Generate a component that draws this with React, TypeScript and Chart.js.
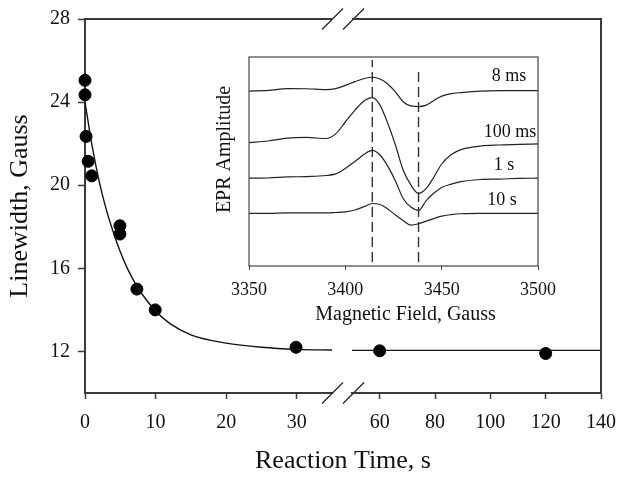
import React, { useEffect, useRef } from "react";
import { Chart, registerables } from "chart.js";

Chart.register(...registerables);

const SERIF = '"Liberation Serif", "Times New Roman", Times, serif';
const INK = "#111111";
const AXIS = "#3a3a3a";

// ---------- main chart data ----------
const timeTicksEarly = [0, 10, 20, 30];
const timeTicksLate = [60, 80, 100, 120, 140];
const linewidthTicks = [12, 16, 20, 24, 28];

const measuredTimeEarly = [0, 0, 0.15, 0.45, 0.95, 4.95, 4.95, 7.35, 9.95, 29.9];
const measuredLinewidthEarly = [25.05, 24.35, 22.35, 21.15, 20.45, 18.05, 17.65, 15.0, 14.0, 12.2];
const measuredTimeLate = [60, 120];
const measuredLinewidthLate = [12.03, 11.9];

const fitTimeEarly = [0, 1, 2, 3, 4, 5, 6, 7, 8, 10, 12, 15, 20, 25, 30, 35];
const fitLinewidthEarly = [24.0, 21.9, 20.2, 18.85, 17.75, 16.8, 16.0, 15.35, 14.8, 13.95, 13.35, 12.8, 12.4, 12.2, 12.1, 12.07];
const fitTimeLate = [50, 140];
const fitLinewidthLate = [12.05, 12.05];

// ---------- inset data (EPR spectra) ----------
const fieldTicks = [3350, 3400, 3450, 3500];
const field = [3350, 3360, 3370, 3380, 3390, 3395, 3400, 3405, 3410, 3414, 3418, 3422, 3426, 3430, 3434, 3438, 3442, 3446, 3450, 3455, 3460, 3470, 3480, 3490, 3500];
const epr8ms = [83.7, 84.0, 84.9, 84.8, 84.4, 84.9, 86.4, 88.2, 89.7, 90.3, 89.5, 87.1, 83.3, 78.6, 76.6, 76.3, 77.0, 79.2, 81.3, 82.5, 83.0, 83.7, 83.9, 83.9, 83.9];
const epr100ms = [59.0, 59.8, 61.2, 61.5, 61.0, 63.2, 68.9, 74.6, 79.2, 80.6, 77.0, 68.3, 57.9, 45.9, 38.8, 34.7, 37.1, 42.6, 48.8, 53.3, 55.7, 57.4, 57.9, 58.2, 58.4];
const epr1s = [42.0, 42.1, 42.6, 42.8, 43.3, 44.1, 46.7, 50.0, 53.6, 55.3, 53.1, 47.8, 40.7, 32.3, 28.2, 26.6, 31.3, 34.9, 37.6, 39.2, 40.4, 41.4, 41.6, 41.9, 42.0];
const epr10s = [25.2, 25.2, 25.4, 25.4, 25.4, 25.6, 25.9, 26.8, 28.5, 29.9, 29.4, 27.3, 24.4, 21.8, 19.6, 20.2, 21.5, 22.7, 23.9, 24.6, 25.0, 25.2, 25.2, 25.2, 25.2];
const spectrumNames = ["8 ms", "100 ms", "1 s", "10 s"];
const markerFields = [3414, 3438];
const markerBottom = [1.9, 1.9];
const markerTop = [98.6, 93.8];

const pts = (xs: number[], ys: number[]) => xs.map((x, i) => ({ x, y: ys[i] }));

const W = 624;
const H = 480;
const PLOT_TOP = 19;
const PLOT_BOTTOM_AXIS_H = 87;
const EARLY_LEFT = 85;
const EARLY_RIGHT = 332;
const LATE_LEFT = 352;
const LATE_RIGHT = 601;

const tickFont = { family: SERIF, size: 20 };

function xAxis(min: number, max: number, ticks: number[]) {
  return {
    type: "linear" as const,
    min,
    max,
    afterBuildTicks: (s: any) => {
      s.ticks = ticks.map((v) => ({ value: v }));
    },
    afterFit: (s: any) => {
      s.height = PLOT_BOTTOM_AXIS_H;
      s.paddingLeft = 0;
      s.paddingRight = 0;
    },
    grid: { drawOnChartArea: false, drawTicks: true, tickLength: 6, tickColor: AXIS, tickWidth: 1.5 },
    border: { display: true, color: AXIS, width: 2 },
    ticks: { font: tickFont, color: INK, padding: 12, maxRotation: 0, autoSkip: false, callback: (v: any) => String(v) },
  };
}

const earlyDecor = {
  id: "earlyDecor",
  afterDraw(chart: any) {
    const { ctx, chartArea: a } = chart;
    ctx.save();
    ctx.strokeStyle = AXIS;
    ctx.lineWidth = 2;
    ctx.beginPath();
    ctx.moveTo(a.left - 1, a.top);
    ctx.lineTo(a.right, a.top);
    ctx.stroke();
    ctx.strokeStyle = "#222";
    ctx.lineWidth = 1.3;
    for (const y of [a.top, a.bottom]) {
      for (const x0 of [a.right - 10, a.right + 11]) {
        ctx.beginPath();
        ctx.moveTo(x0, y + 10.5);
        ctx.lineTo(x0 + 21, y - 10.5);
        ctx.stroke();
      }
    }
    ctx.fillStyle = INK;
    ctx.font = `26px ${SERIF}`;
    ctx.textAlign = "center";
    ctx.textBaseline = "alphabetic";
    ctx.fillText("Reaction Time, s", (EARLY_LEFT + LATE_RIGHT) / 2, 468);
    ctx.restore();
  },
};

const lateDecor = {
  id: "lateDecor",
  afterDraw(chart: any) {
    const { ctx, chartArea: a } = chart;
    ctx.save();
    ctx.strokeStyle = AXIS;
    ctx.lineWidth = 2;
    ctx.beginPath();
    ctx.moveTo(a.left, a.top);
    ctx.lineTo(a.right, a.top);
    ctx.lineTo(a.right, a.bottom);
    ctx.stroke();
    ctx.restore();
  },
};

const insetDecor = {
  id: "insetDecor",
  afterDraw(chart: any) {
    const { ctx, chartArea: a, scales } = chart;
    ctx.save();
    ctx.strokeStyle = "#444";
    ctx.lineWidth = 1.2;
    ctx.strokeRect(a.left, a.top, a.right - a.left, a.bottom - a.top);
    ctx.fillStyle = INK;
    ctx.font = `20px ${SERIF}`;
    ctx.textAlign = "center";
    ctx.textBaseline = "middle";
    ctx.fillText("Magnetic Field, Gauss", (a.left + a.right) / 2 + 12, a.bottom + 49);
    ctx.save();
    ctx.translate(a.left - 24, (a.top + a.bottom) / 2 - 12);
    ctx.rotate(-Math.PI / 2);
    ctx.fillText("EPR Amplitude", 0, 0);
    ctx.restore();
    ctx.font = `18px ${SERIF}`;
    const series = [epr8ms, epr100ms, epr1s, epr10s];
    const dx = [-29, -28, -34, -36];
    const dy = [14.5, 11.5, 13.3, 13.3];
    series.forEach((s, i) => {
      const y = scales.y.getPixelForValue(s[s.length - 1]) - dy[i];
      ctx.fillText(spectrumNames[i], a.right + dx[i], y);
    });
    ctx.restore();
  },
};

export default function App() {
  const earlyRef = useRef<HTMLCanvasElement>(null);
  const lateRef = useRef<HTMLCanvasElement>(null);
  const insetRef = useRef<HTMLCanvasElement>(null);

  useEffect(() => {
    const common = {
      animation: false as const,
      responsive: false,
      events: [] as any[],
      plugins: { legend: { display: false }, tooltip: { enabled: false } },
    };

    const early = new Chart(earlyRef.current!, {
      type: "line",
      data: {
        datasets: [
          {
            data: pts(fitTimeEarly, fitLinewidthEarly),
            borderColor: INK,
            borderWidth: 1.4,
            pointRadius: 0,
            cubicInterpolationMode: "monotone",
            fill: false,
          } as any,
          {
            type: "scatter",
            data: pts(measuredTimeEarly, measuredLinewidthEarly),
            backgroundColor: "#000",
            borderColor: "#000",
            pointRadius: 6,
            clip: false,
          } as any,
        ],
      },
      options: {
        ...common,
        layout: { padding: { left: 0, top: PLOT_TOP, right: W - EARLY_RIGHT, bottom: 0 } },
        scales: {
          x: xAxis(0, 35, timeTicksEarly) as any,
          y: {
            type: "linear",
            min: 10,
            max: 28,
            afterBuildTicks: (s: any) => {
              s.ticks = linewidthTicks.map((v) => ({ value: v }));
            },
            afterFit: (s: any) => {
              s.width = EARLY_LEFT;
              s.paddingTop = 0;
              s.paddingBottom = 0;
            },
            grid: { drawOnChartArea: false, drawTicks: true, tickLength: 7, tickColor: AXIS, tickWidth: 1.5 },
            border: { display: true, color: AXIS, width: 2 },
            ticks: { font: tickFont, color: INK, padding: 8 },
            title: {
              display: true,
              text: "Linewidth, Gauss",
              color: INK,
              font: { family: SERIF, size: 26 },
              padding: { top: 5, bottom: 0 },
            },
          } as any,
        },
      },
      plugins: [earlyDecor],
    });

    const late = new Chart(lateRef.current!, {
      type: "line",
      data: {
        datasets: [
          {
            data: pts(fitTimeLate, fitLinewidthLate),
            borderColor: INK,
            borderWidth: 1.4,
            pointRadius: 0,
            fill: false,
          } as any,
          {
            type: "scatter",
            data: pts(measuredTimeLate, measuredLinewidthLate),
            backgroundColor: "#000",
            borderColor: "#000",
            pointRadius: 6,
            clip: false,
          } as any,
        ],
      },
      options: {
        ...common,
        layout: { padding: { left: LATE_LEFT, top: PLOT_TOP, right: W - LATE_RIGHT, bottom: 0 } },
        scales: {
          x: xAxis(50, 140, timeTicksLate) as any,
          y: { type: "linear", min: 10, max: 28, display: false },
        },
      },
      plugins: [lateDecor],
    });

    const spectra = [epr8ms, epr100ms, epr1s, epr10s];
    const inset = new Chart(insetRef.current!, {
      type: "line",
      data: {
        datasets: [
          ...spectra.map(
            (s) =>
              ({
                data: pts(field, s),
                borderColor: "#222",
                borderWidth: 1.2,
                pointRadius: 0,
                cubicInterpolationMode: "monotone",
                fill: false,
              }) as any
          ),
          ...markerFields.map(
            (f, i) =>
              ({
                data: [
                  { x: f, y: markerBottom[i] },
                  { x: f, y: markerTop[i] },
                ],
                borderColor: "#333",
                borderWidth: 1.4,
                borderDash: [10, 5],
                pointRadius: 0,
                fill: false,
              }) as any
          ),
        ],
      },
      options: {
        ...common,
        layout: { padding: { left: 249, top: 57, right: 86, bottom: H - 266 - 60 } },
        scales: {
          x: {
            type: "linear",
            min: 3350,
            max: 3500,
            afterBuildTicks: (s: any) => {
              s.ticks = fieldTicks.map((v) => ({ value: v }));
            },
            afterFit: (s: any) => {
              s.height = 60;
              s.paddingLeft = 0;
              s.paddingRight = 0;
            },
            grid: { drawOnChartArea: false, drawTicks: true, tickLength: 4, tickColor: "#444", tickWidth: 1 },
            border: { display: false },
            ticks: {
              font: { family: SERIF, size: 18 },
              color: INK,
              padding: 9,
              maxRotation: 0,
              autoSkip: false,
              callback: (v: any) => String(v),
            },
          } as any,
          y: { type: "linear", min: 0, max: 100, display: false },
        },
      },
      plugins: [insetDecor],
    });

    return () => {
      early.destroy();
      late.destroy();
      inset.destroy();
    };
  }, []);

  const cs: React.CSSProperties = { position: "absolute", left: 0, top: 0, width: W, height: H };
  return (
    <div style={{ position: "fixed", left: 0, top: 0, width: W, height: H, background: "#fff" }}>
      <canvas ref={earlyRef} width={W} height={H} style={cs} />
      <canvas ref={lateRef} width={W} height={H} style={cs} />
      <canvas ref={insetRef} width={W} height={H} style={cs} />
    </div>
  );
}
